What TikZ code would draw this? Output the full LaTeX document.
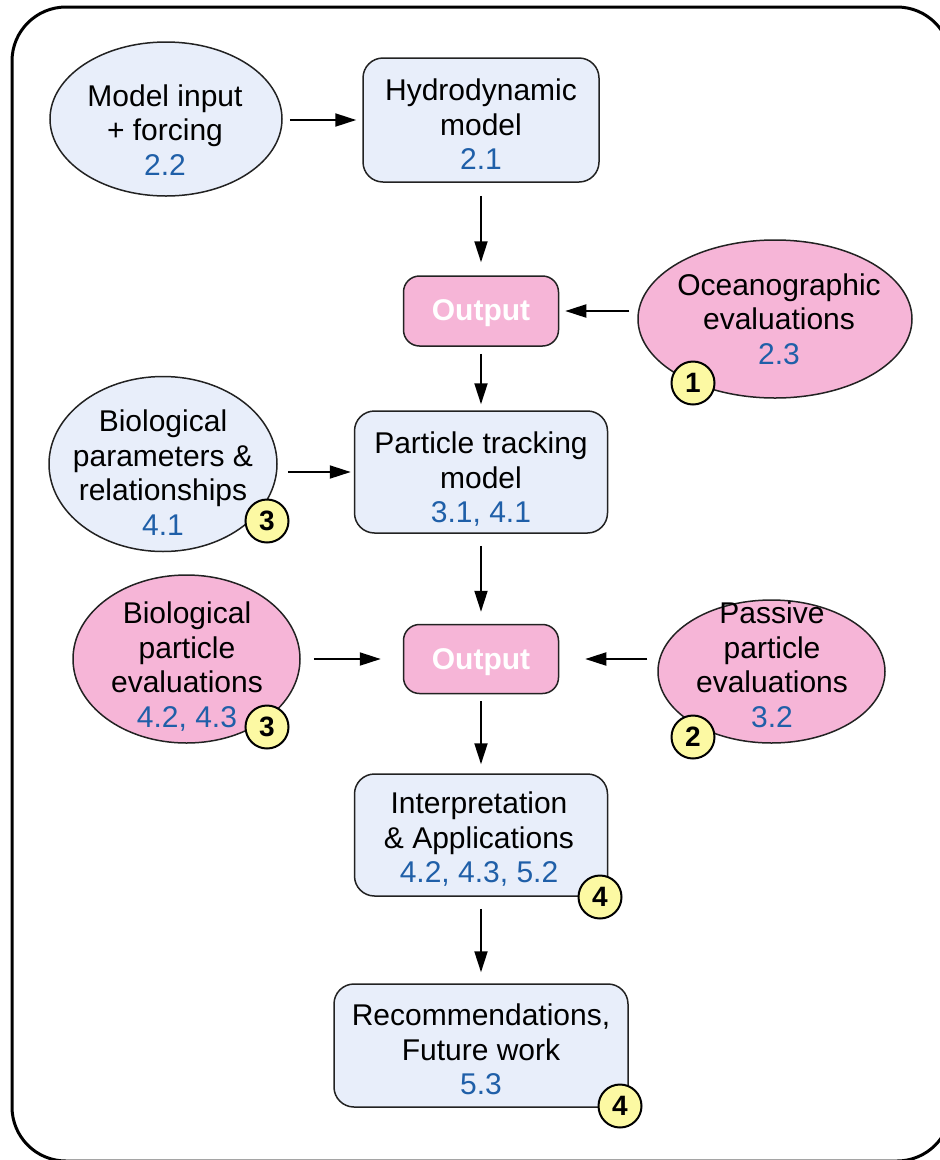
\documentclass[tikz,border=0pt]{standalone}
\usepackage{fontspec}
\setmainfont{Liberation Sans}
\usetikzlibrary{shapes.geometric,arrows.meta}
\definecolor{boxblue}{HTML}{E8EEFA}
\definecolor{pinkfill}{HTML}{F6B5D7}
\definecolor{numblue}{HTML}{1F5FA8}
\definecolor{badgey}{HTML}{FCF9A3}
\definecolor{edgegray}{HTML}{222222}
\newcommand\bluenum[1]{\textcolor{numblue}{#1}}
\begin{document}
\begin{tikzpicture}[x=1pt,y=-1pt,
  rbox/.style={draw=edgegray, line width=1.5pt, fill=boxblue, rounded corners=20pt, inner sep=0pt},
  obox/.style={draw=edgegray, line width=1.5pt, fill=pinkfill, rounded corners=16pt, inner sep=0pt, minimum width=155pt, minimum height=70pt},
  bell/.style={ellipse, draw=edgegray, line width=1.5pt, fill=boxblue, inner sep=0pt},
  pell/.style={ellipse, draw=edgegray, line width=1.5pt, fill=pinkfill, inner sep=0pt},
  txt/.style={align=center, inner sep=0pt, font=\fontsize{30}{34.5}\selectfont},
  otxt/.style={inner sep=0pt, text=white, font=\fontsize{30}{34.5}\selectfont\bfseries},
  badge/.style={circle, draw=black, line width=2pt, fill=badgey, minimum size=43pt, inner sep=0pt, font=\fontsize{28}{30}\selectfont\bfseries},
  arr/.style={line width=2pt, -{Triangle[length=21pt,width=13pt]}}
]
\useasboundingbox (0,0) rectangle (940,1160);
\begin{scope}
\clip (0,0) rectangle (940,1160);
\draw[line width=3pt, rounded corners=54pt] (12,7) rectangle (951,1161);
\end{scope}

% shapes
\node[bell, minimum width=232pt, minimum height=154pt] (mi) at (166,119) {};
\node[rbox, minimum width=236pt, minimum height=124pt] (hydro) at (481,120) {};
\node[obox] (out1) at (481,311) {};
\node[pell, minimum width=274pt, minimum height=158pt] (ocean) at (775,319) {};
\node[bell, minimum width=228pt, minimum height=175pt] (bp) at (163,464) {};
\node[rbox, minimum width=253pt, minimum height=122pt] (pt) at (481,472) {};
\node[obox, minimum height=69pt] (out2) at (481,659) {};
\node[pell, minimum width=227pt, minimum height=168pt] (bpe) at (186.5,659) {};
\node[pell, minimum width=227pt, minimum height=143pt] (pass) at (771.5,671.5) {};
\node[rbox, minimum width=253pt, minimum height=122pt] (interp) at (481,835) {};
\node[rbox, minimum width=294pt, minimum height=123pt] (rec) at (481,1045.5) {};

% texts
\node[txt] (mi-t) at (165,130) {Model input\\+ forcing\\\bluenum{2.2}};
\node[txt] (hydro-t) at (481,124.5) {Hydrodynamic\\model\\\bluenum{2.1}};
\node[otxt, anchor=base] (out1-t) at (481,320) {Output};
\node[txt] (ocean-t) at (779,319) {Oceanographic\\evaluations\\\bluenum{2.3}};
\node[txt] (bp-t) at (163,472.5) {Biological\\parameters \&\\relationships\\\bluenum{4.1}};
\node[txt] (pt-t) at (481,479.5) {Particle tracking\\model\\\bluenum{3.1, 4.1}};
\node[otxt, anchor=base] (out2-t) at (481,669) {Output};
\node[txt] (bpe-t) at (187,666.5) {Biological\\particle\\evaluations\\\bluenum{4.2, 4.3}};
\node[txt] (pass-t) at (772,665) {Passive\\particle\\evaluations\\\bluenum{3.2}};
\node[txt] (interp-t) at (479,839.5) {Interpretation\\\& Applications\\\bluenum{4.2, 4.3, 5.2}};
\node[txt] (rec-t) at (481,1049.5) {Recommendations,\\Future work\\\bluenum{5.3}};

% badges
\node[badge] (b1) at (693,383) {1};
\node[badge] (b3a) at (267,521) {3};
\node[badge] (b3b) at (267,727) {3};
\node[badge] (b2) at (693,737) {2};
\node[badge] (b4a) at (600,897) {4};
\node[badge] (b4b) at (620,1106) {4};

% connectors
\draw[arr, shorten <=7pt, shorten >=6pt] (mi.east |- hydro.west) -- (hydro.west);
\draw[arr, shorten <=13pt, shorten >=13pt] (hydro.south) -- (out1.north);
\draw[arr, shorten <=8pt, shorten >=6pt] (out1 -| ocean.west) -- (out1.east);
\draw[arr, shorten <=7pt, shorten >=6pt] (out1.south) -- (pt.north);
\draw[arr, shorten <=10pt, shorten >=3pt] (pt.west -| bp.east) -- (pt.west);
\draw[arr, shorten <=12pt, shorten >=12pt] (pt.south) -- (out2.north);
\draw[arr, shorten <=13pt, shorten >=22pt] (bpe.east |- out2.west) -- (out2.west);
\draw[arr, shorten <=10pt, shorten >=26pt] (out2 -| pass.west) -- (out2.east);
\draw[arr, shorten <=7pt, shorten >=9pt] (out2.south) -- (interp.north);
\draw[arr, shorten <=12pt, shorten >=11pt] (interp.south) -- (rec.north);
\end{tikzpicture}
\end{document}
